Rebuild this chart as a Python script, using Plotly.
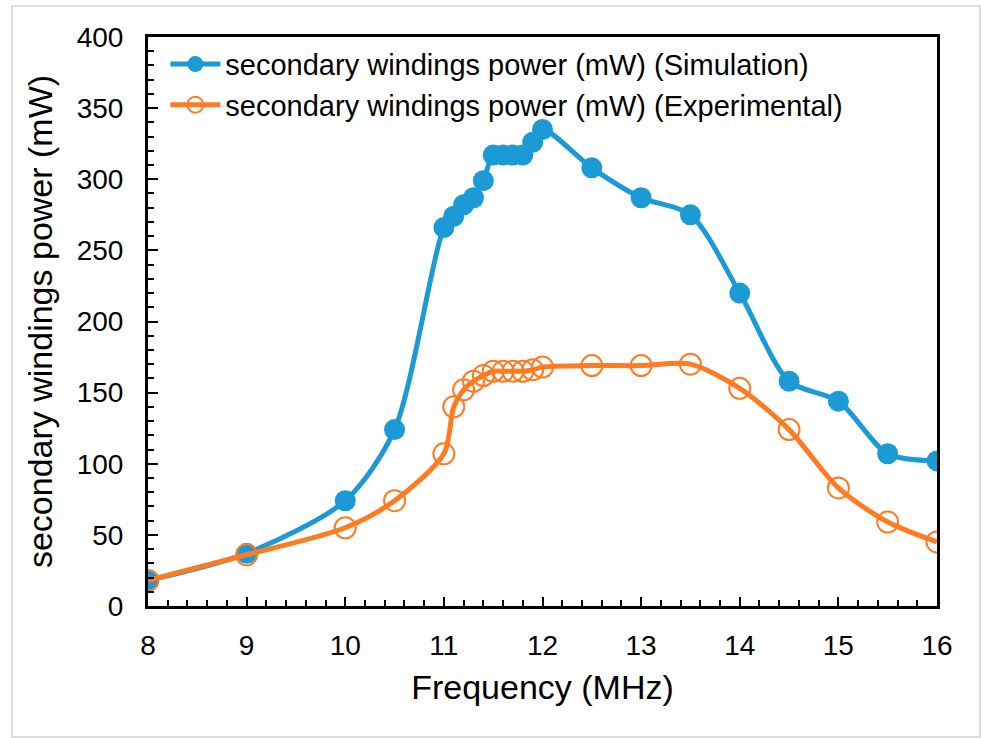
import plotly.graph_objects as go

# Frequency sweep (MHz)
freq_sim = [8, 9, 10, 10.5, 11, 11.1, 11.2, 11.3, 11.4, 11.5, 11.6, 11.7, 11.8, 11.9, 12,
            12.5, 13, 13.5, 14, 14.5, 15, 15.5, 16]
power_sim = [18, 37, 74, 124, 266, 274, 282, 287, 299, 317, 317, 317, 317, 326, 335,
             308, 287, 275, 220, 158, 144, 107, 102]

freq_exp = [8, 9, 10, 10.5, 11, 11.1, 11.2, 11.3, 11.4, 11.5, 11.6, 11.7, 11.8, 11.9, 12,
            12.5, 13, 13.5, 14, 14.5, 15, 15.5, 16]
power_exp = [18, 36, 55, 74, 107, 140, 152, 158, 162, 165, 165, 165, 165, 166, 168,
             169, 169, 170, 153, 124, 83, 59, 45]

BLUE = "#1b9ad6"
ORANGE = "#ff7b22"
FONT = "Liberation Sans, Arial, sans-serif"

fig = go.Figure()

fig.add_trace(go.Scatter(
    x=freq_sim, y=power_sim, mode="lines+markers",
    name="secondary windings power (mW) (Simulation)",
    line=dict(color=BLUE, width=5, shape="spline", smoothing=0.8),
    marker=dict(color=BLUE, size=21, symbol="circle"),
))
fig.add_trace(go.Scatter(
    x=freq_exp, y=power_exp, mode="lines+markers",
    name="secondary windings power (mW) (Experimental)",
    line=dict(color=ORANGE, width=5, shape="spline", smoothing=0.8),
    marker=dict(color=ORANGE, size=21, symbol="circle-open",
                line=dict(color=ORANGE, width=2)),
))

L, R, T, B = 148, 44, 37, 132
W, H = 981, 738
pw, ph = W - L - R, H - T - B

fig.update_layout(
    width=W, height=H,
    margin=dict(l=L, r=R, t=T, b=B),
    paper_bgcolor="white", plot_bgcolor="white",
    font=dict(family=FONT, color="black"),
    showlegend=True,
    legend=dict(
        x=0.022, y=0.997, xanchor="left", yanchor="top",
        bgcolor="rgba(0,0,0,0)", font=dict(size=29, family=FONT),
        itemwidth=50, tracegroupgap=0,
    ),
    shapes=[dict(
        type="rect", xref="paper", yref="paper",
        x0=(12 - L) / pw, x1=(980 - L) / pw,
        y0=(H - B - 737) / ph, y1=(H - B - 6) / ph,
        line=dict(color="#dcdcdc", width=2), fillcolor="rgba(0,0,0,0)", layer="below",
    )],
)

fig.update_xaxes(
    range=[8, 16], dtick=1, tick0=8,
    showgrid=False, zeroline=False,
    showline=True, linecolor="black", linewidth=3, mirror=True,
    ticks="inside", ticklen=9, tickwidth=2, tickcolor="black",
    minor=dict(ticks="inside", dtick=0.2, ticklen=6, tickwidth=2, tickcolor="black"),
    tickfont=dict(size=28, family=FONT),
    ticklabelstandoff=12,
    title=dict(text="Frequency (MHz)", font=dict(size=34, family=FONT), standoff=16),
)
fig.update_yaxes(
    range=[0, 400], dtick=50, tick0=0,
    showgrid=False, zeroline=False,
    showline=True, linecolor="black", linewidth=3, mirror=True,
    ticks="inside", ticklen=10, tickwidth=2, tickcolor="black",
    minor=dict(ticks="inside", dtick=10, ticklen=6, tickwidth=2, tickcolor="black"),
    tickfont=dict(size=28, family=FONT),
    ticklabelstandoff=16,
    title=dict(text="secondary windings power (mW)", font=dict(size=34, family=FONT), standoff=14),
)

fig.write_html("out.html")
